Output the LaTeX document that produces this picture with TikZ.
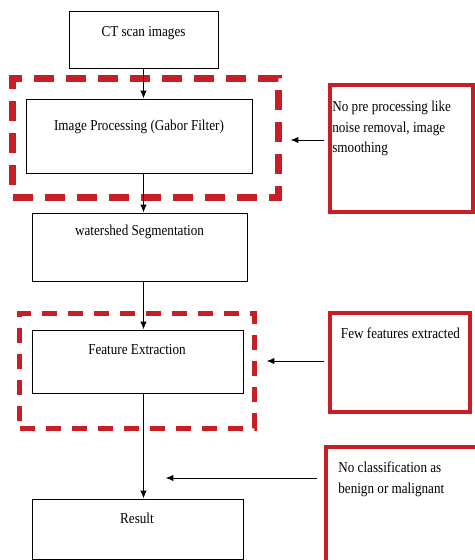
\documentclass[tikz,border=0pt]{standalone}
\usepackage{fontspec}
\setmainfont{Liberation Serif}[FakeStretch=0.87]
\usetikzlibrary{arrows.meta}
\definecolor{flawred}{RGB}{200,30,38}

\begin{document}
\begin{tikzpicture}[>={Latex[length=4.5pt,width=3.6pt]},x=0.2mm,y=-0.2mm,
  font=\fontsize{8.6}{11.6}\selectfont,
  box/.style={draw,line width=0.5pt,inner sep=0pt},
  flaw/.style={draw=flawred,inner sep=0pt},
  note/.style={draw=flawred,line width=0.8mm,inner sep=0pt}]
 \useasboundingbox (0,0) rectangle (475,560);
 % flow boxes
 \node[box,minimum width=29.8mm,minimum height=11.4mm] (ct) at (143.5,39.5) {};
 \node[box,minimum width=45.2mm,minimum height=14.8mm] (ip) at (139,136) {};
 \node[box,minimum width=43mm,minimum height=13.6mm] (ws) at (139.5,247) {};
 \node[box,minimum width=42.2mm,minimum height=12.6mm] (fe) at (137.5,361.5) {};
 \node[box,minimum width=42.2mm,minimum height=12mm] (res) at (137.5,529) {};
 \node (ctlbl) at (143.5,33) {CT scan images};
 \node (iplbl) at (139,127) {Image Processing (Gabor Filter)};
 \node (wslbl) at (139.5,232) {watershed Segmentation};
 \node (felbl) at (137,350) {Feature Extraction};
 \node (reslbl) at (137,518) {Result};
 % weak steps
 \node[flaw,line width=1.4mm,dash pattern=on 4mm off 2.4mm,
   minimum width=53mm,minimum height=23.8mm] (dash1) at (145.5,137.5) {};
 \node[flaw,line width=1mm,dash pattern=on 3mm off 2.2mm,
   minimum width=46.8mm,minimum height=23mm] (dash2) at (137,370.5) {};
 % notes
 \node[note,minimum width=28.6mm,minimum height=25.4mm] (note1) at (401.5,148.5) {};
 \node[note,minimum width=28mm,minimum height=19.8mm] (note2) at (400,362.5) {};
 \node[note,minimum width=31.2mm,minimum height=25.6mm] (note3) at (404,511) {};
 \node[anchor=north west,align=left,inner sep=0pt] (n1lbl) at (332,101)
   {No pre processing like\\noise removal, image\\smoothing};
 \node (n2lbl) at (400.5,333) {Few features extracted};
 \node[anchor=north west,align=left,inner sep=0pt] (n3lbl) at (338,462)
   {No classification as\\benign or malignant};
 % arrows
 \draw[->,line width=0.55pt] (ct.south) -- (ct.south |- ip.north);
 \draw[->,line width=0.55pt] (ct.south |- ip.south) -- (ct.south |- ws.north);
 \draw[->,line width=0.55pt] (ct.south |- ws.south) -- (ct.south |- fe.north);
 \draw[->,line width=0.55pt] (ct.south |- fe.south) -- (ct.south |- res.north);
 \draw[->,line width=0.55pt,shorten <=0.8mm,shorten >=1.8mm] (note1.west |- 0,140) -- (dash1.east |- 0,140);
 \draw[->,line width=0.55pt,shorten <=0.8mm,shorten >=2mm] (note2.west |- 0,361) -- (dash2.east |- 0,361);
 \draw[->,line width=0.55pt,shorten <=1.4mm,shorten >=4.4mm] (note3.west |- 0,478) -- (ct.south |- 0,478);
\end{tikzpicture}
\end{document}
